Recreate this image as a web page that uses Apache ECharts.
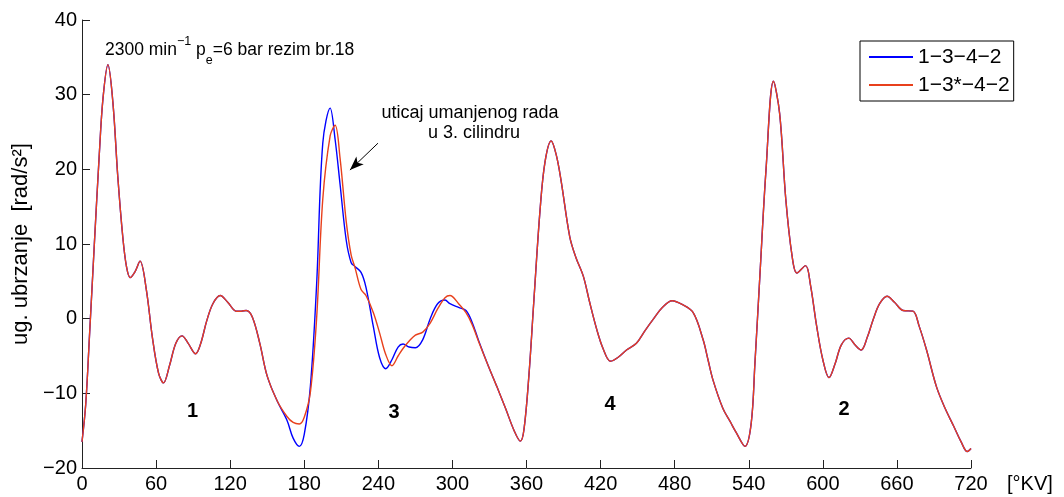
<!DOCTYPE html>
<html>
<head>
<meta charset="utf-8">
<script src="https://cdn.jsdelivr.net/npm/echarts@6/dist/echarts.min.js"></script>
<style>
html,body{margin:0;padding:0;background:#fff;}
#c{width:1064px;height:497px;}
</style>
</head>
<body>
<div id="c"></div>
<script>
// crank angle [°KV]
const angles = [0,3,6,10,14,17,21,25,29,33,36,39,43,47,52,57,62,66,71,76,81,86,92,96,101,106,112,118,125,129,133,138,144,150,158,166,171,176,180,185,190,195,201,205,209,214,218,221,226,230,236,241,246,251,256,260,265,270,276,282,288,294,298,305,311,316,322,329,336,343,350,355,358,362,366,371,375,380,384,388,395,400,406,411,417,422,428,434,441,449,456,463,470,478,486,495,503,507,511,519,525,530,537,542,545,549,554,560,565,570,575,579,586,590,595,600,605,610,615,621,626,631,636,641,646,652,658,665,673,678,684,692,699,706,712,717,720];
// 1-3-4-2 (blue)
const blueVals = [-16.5,-11.5,-2.5,10,22,29.5,34,29,19,11,7,5.5,6.3,7.7,4,-2.5,-7.3,-8.6,-6.2,-3.3,-2.3,-3.3,-4.7,-3.4,-0.3,2.0,3.1,2.2,1.0,1.0,1.1,0.2,-3.3,-7.7,-11,-13.6,-16,-17.1,-15.5,-9,4.5,23.5,28.2,24,18,10.5,7.5,7.0,6.2,4.2,-1.1,-5.2,-6.7,-5.5,-3.8,-3.4,-3.8,-3.9,-2.8,0,2,2.5,2.0,1.5,1.1,-0.5,-3.3,-6.3,-9.1,-12,-15,-16.4,-14.8,-7.5,2.5,14.6,21,23.8,22,18.5,11,8.2,5.7,2.3,-1.5,-4,-5.7,-5.2,-4.2,-3.3,-1.6,0,1.5,2.4,1.9,0.8,-2.8,-5.5,-8.2,-12,-13.8,-15.3,-17.1,-14,-6,5.7,20,31.8,27.5,16,8.5,6.1,7.1,4.5,-1.0,-5.5,-7.9,-6,-3.5,-2.6,-3.5,-4.2,-2.5,0,2.0,3.0,2.2,1.1,1.0,-1.0,-4.2,-9.1,-12,-14.4,-16.5,-17.8,-17.4];
// 1-3*-4-2 (red) — differs from blue between ~155 and ~320 °KV
const redVals = [-16.5,-11.5,-2.5,10,22,29.5,34,29,19,11,7,5.5,6.3,7.7,4,-2.5,-7.3,-8.6,-6.2,-3.3,-2.3,-3.3,-4.7,-3.4,-0.3,2.0,3.1,2.2,1.0,1.0,1.1,0.2,-3.3,-7.7,-11,-13.1,-13.9,-14.1,-13.2,-9.8,0,16,24.5,25.9,21.5,13,8.5,6.9,3.9,3.1,0.8,-1.9,-4.8,-6.3,-5,-4,-3,-2.2,-1.8,-0.6,1.3,2.8,3.1,2.0,0.8,-0.8,-3.4,-6.3,-9.1,-12,-15,-16.4,-14.8,-7.5,2.5,14.6,21,23.8,22,18.5,11,8.2,5.7,2.3,-1.5,-4,-5.7,-5.2,-4.2,-3.3,-1.6,0,1.5,2.4,1.9,0.8,-2.8,-5.5,-8.2,-12,-13.8,-15.3,-17.1,-14,-6,5.7,20,31.8,27.5,16,8.5,6.1,7.1,4.5,-1.0,-5.5,-7.9,-6,-3.5,-2.6,-3.5,-4.2,-2.5,0,2.0,3.0,2.2,1.1,1.0,-1.0,-4.2,-9.1,-12,-14.4,-16.5,-17.8,-17.4];
const xTicks = [0,60,120,180,240,300,360,420,480,540,600,660,720];
const yTicks = [-20,-10,0,10,20,30,40];
const seriesNames = ['1\u22123\u22124\u22122','1\u22123*\u22124\u22122'];
const cylLabels = [['1',89.5,-12.4],['3',252.7,-12.6],['4',427.7,-11.5],['2',617.2,-12.2]];
const noteLines = ['uticaj umanjenog rada','u 3. cilindru'];
const notePos = [[314.2,27.6],[317.5,24.8]];
const arrowFrom = [239.7,23.5];
const arrowTo = [217,19.9];
const titleAt = [18.6,35.9];

const FONT = '"Liberation Sans", Arial, Helvetica, sans-serif';
const fmtMinus = v => String(v).replace('-', '\u2212');

const chart = echarts.init(document.getElementById('c'), null, {renderer:'canvas'});
const mk = vals => angles.map((a,i)=>[a, vals[i]]);

chart.setOption({
  animation:false,
  backgroundColor:'#fff',
  grid:{left:82, top:20, right:93, bottom:29, containLabel:false},
  legend:{
    left:860, top:41, orient:'vertical',
    padding:[5,4,5,9], itemGap:6, itemWidth:44, itemHeight:2,
    borderColor:'#000', borderWidth:1, backgroundColor:'#fff',
    textStyle:{fontFamily:FONT, fontSize:21, color:'#000', lineHeight:22},
    data:seriesNames.map(n=>({name:n, icon:'rect'}))
  },
  xAxis:{
    type:'value', min:xTicks[0], max:xTicks[xTicks.length-1], interval:60,
    axisLine:{onZero:false, lineStyle:{color:'#222', width:1}},
    axisTick:{inside:true, length:8, lineStyle:{color:'#222'}},
    axisLabel:{fontFamily:FONT, fontSize:20, color:'#000', margin:6, formatter:v=>fmtMinus(v)},
    splitLine:{show:false}
  },
  yAxis:{
    type:'value', min:yTicks[0], max:yTicks[yTicks.length-1], interval:10,
    name:'ug. ubrzanje  [rad/s\u00B2]', nameLocation:'middle', nameGap:40, nameRotate:90,
    nameTextStyle:{fontFamily:FONT, fontSize:22, color:'#000'},
    axisLine:{show:true, onZero:false, lineStyle:{color:'#222', width:1}},
    axisTick:{show:true, inside:true, length:8, lineStyle:{color:'#222'}},
    axisLabel:{fontFamily:FONT, fontSize:20, color:'#000', margin:5, formatter:v=>fmtMinus(v)},
    splitLine:{show:false}
  },
  series:[
    {name:seriesNames[0], type:'line', data:mk(blueVals), smooth:0.35, symbol:'none', showSymbol:false,
     lineStyle:{color:'#0000ff', width:1.4}, itemStyle:{color:'#0000ff'}, z:2},
    {name:seriesNames[1], type:'line', data:mk(redVals), smooth:0.35, symbol:'none', showSymbol:false,
     lineStyle:{color:'#e8401c', width:1.4}, itemStyle:{color:'#e8401c'}, z:3,
     markLine:{silent:true, symbol:['none','arrow'], symbolSize:[8,14],
       lineStyle:{color:'#000', width:1, type:'solid'}, label:{show:false},
       data:[[{coord:arrowFrom},{coord:arrowTo}]]}}
  ]
});

function px(p){ return chart.convertToPixel({gridIndex:0}, p); }
const g = [];
const tp = px(titleAt);
g.push({type:'text', left:tp[0], top:tp[1]-16, style:{
  text:'{n|2300 min}{sup|\u22121}{n| p}{sub|e}{n|=6 bar rezim br.18}',
  rich:{
    n:{fontFamily:FONT, fontSize:17.5, fill:'#000', verticalAlign:'middle', lineHeight:32},
    sup:{fontFamily:FONT, fontSize:12.5, fill:'#000', verticalAlign:'top', lineHeight:32},
    sub:{fontFamily:FONT, fontSize:12.5, fill:'#000', verticalAlign:'bottom', lineHeight:32}
  }}});
noteLines.forEach((t,i)=>{
  const p = px(notePos[i]);
  g.push({type:'text', x:p[0], y:p[1], style:{text:t, fontFamily:FONT, fontSize:18, fill:'#000', align:'center', verticalAlign:'middle'}});
});
cylLabels.forEach(c=>{
  const p = px([c[1],c[2]]);
  g.push({type:'text', x:p[0], y:p[1], style:{text:c[0], fontFamily:FONT, fontSize:20, fontWeight:'bold', fill:'#000', align:'center', verticalAlign:'middle'}});
});
g.push({type:'text', x:1007, y:484, style:{text:'[\u00B0KV]', fontFamily:FONT, fontSize:20, fill:'#000', verticalAlign:'middle'}});
chart.setOption({graphic:g});
</script>
</body>
</html>
